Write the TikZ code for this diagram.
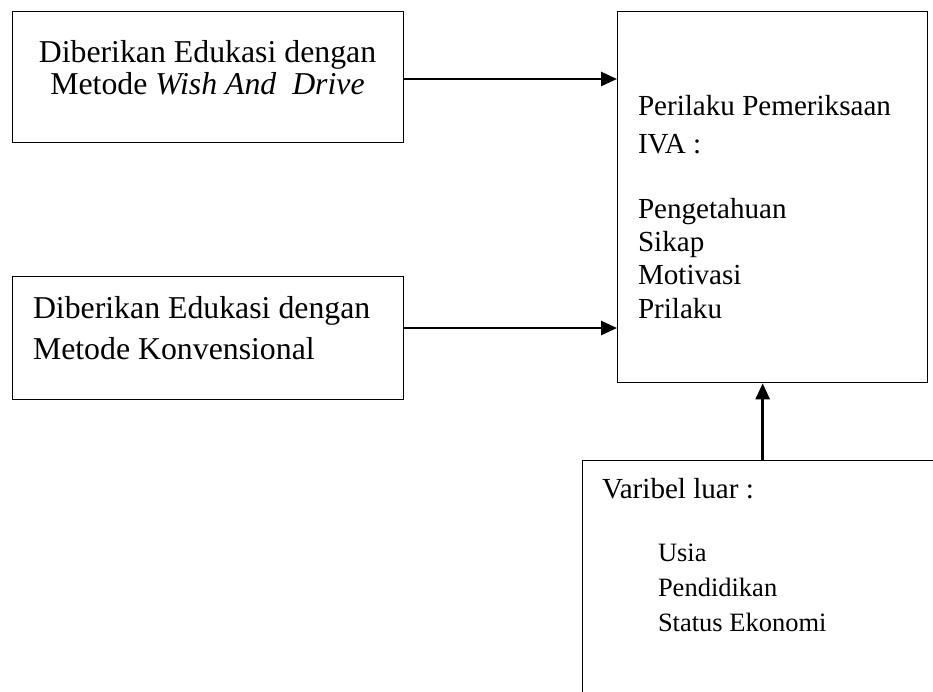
\documentclass[tikz,border=0pt]{standalone}
\usepackage{fontspec}
\setmainfont{Liberation Serif}
\usetikzlibrary{arrows.meta}

\begin{document}
\begin{tikzpicture}[x=1pt,y=-1pt]
        \tikzset{kotak/.style = {draw,line width=1.3pt,inner sep=0pt,anchor=north west}}
        \tikzset{teks/.style = {inner sep=0pt,outer sep=0pt}}
        \tikzset{panah/.style = {-{Triangle[length=16pt,width=14pt]},line width=2.6pt}}
        \clip (0,0) rectangle (933,691);

        \node[kotak,minimum width=391,minimum height=131] (edukasiwad) at (12,11) {};
        \node[kotak,minimum width=391,minimum height=123] (edukasikon) at (12,276) {};
        \node[kotak,minimum width=310,minimum height=371] (perilaku) at (617,11) {};
        \node[kotak,minimum width=360,minimum height=250] (varluar) at (582,460) {};

        \node[teks,anchor=north,align=center,font={\fontsize{31.8}{32}\selectfont}] (judulwad) at (207.5,40.3)
          {Diberikan Edukasi dengan\\Metode \textit{Wish And\ \ Drive}};
        \node[teks,anchor=north west,align=left,font={\fontsize{31.8}{41}\selectfont}] (judulkon) at (33,296.3)
          {Diberikan Edukasi dengan\\Metode Konvensional};
        \node[teks,anchor=north west,align=left,font={\fontsize{29.1}{38}\selectfont}] (judulperilaku) at (638,95.1)
          {Perilaku Pemeriksaan\\IVA :};
        \node[teks,anchor=north west,align=left,font={\fontsize{29.1}{33.3}\selectfont}] (daftarperilaku) at (638,198.1)
          {Pengetahuan\\Sikap\\Motivasi\\Prilaku};
        \node[teks,anchor=north west,align=left,font={\fontsize{29.1}{35}\selectfont}] (judulluar) at (602,478.1)
          {Varibel luar :};
        \node[teks,anchor=north west,align=left,font={\fontsize{26.5}{35}\selectfont}] (daftarluar) at (658,543.9)
          {Usia\\Pendidikan\\Status Ekonomi};

        \draw[panah] (edukasiwad.east |- 0,79) to (perilaku.west |- 0,79);
        \draw[panah] (edukasikon.east |- 0,328) to (perilaku.west |- 0,328);
        \draw[panah] (varluar.north) to (varluar.north |- perilaku.south);
\end{tikzpicture}
\end{document}
